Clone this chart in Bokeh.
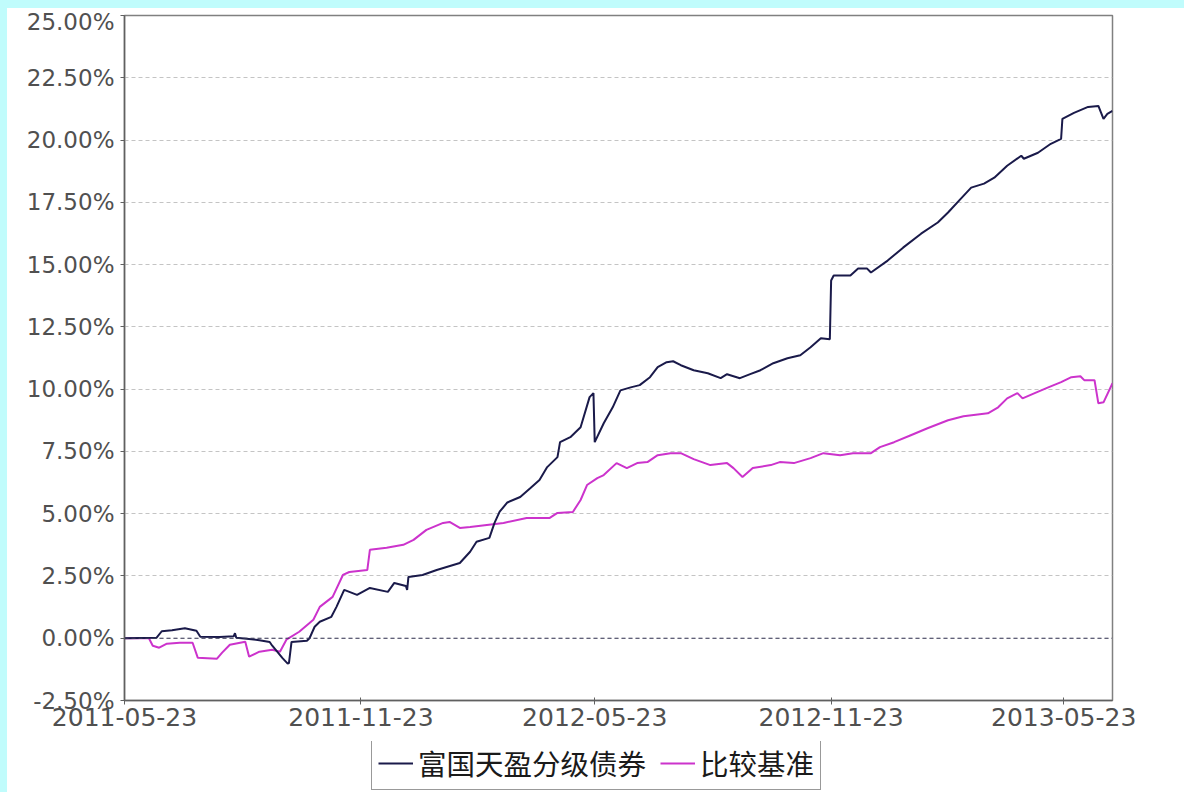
import pandas as pd
from bokeh.plotting import figure
from bokeh.layouts import column, row
from bokeh.models import (ColumnDataSource, Range1d, FixedTicker, DatetimeTickFormatter,
                          PrintfTickFormatter, Span, Legend, LegendItem, Spacer)
from bokeh.embed import file_html
from bokeh.resources import INLINE

# ---------------- data ----------------
fund_name = "富国天盈分级债券"
bench_name = "比较基准"

fund_dates = [
    "2011-05-23", "2011-06-17", "2011-06-21", "2011-06-29", "2011-07-09", "2011-07-18",
    "2011-07-21", "2011-08-05", "2011-08-16", "2011-08-17", "2011-08-18", "2011-08-26",
    "2011-09-05", "2011-09-13", "2011-09-15", "2011-09-23", "2011-09-27", "2011-09-28",
    "2011-09-30", "2011-10-12", "2011-10-14", "2011-10-18", "2011-10-22", "2011-10-31",
    "2011-11-04", "2011-11-10", "2011-11-20", "2011-11-30", "2011-12-14", "2011-12-19",
    "2011-12-28", "2011-12-29", "2011-12-30", "2012-01-10", "2012-01-21", "2012-02-08",
    "2012-02-16", "2012-02-21", "2012-03-02", "2012-03-06", "2012-03-10", "2012-03-16",
    "2012-03-26", "2012-04-03", "2012-04-10", "2012-04-16", "2012-04-24", "2012-04-26",
    "2012-05-04", "2012-05-12", "2012-05-19", "2012-05-22", "2012-05-23", "2012-05-30",
    "2012-06-06", "2012-06-12", "2012-06-20", "2012-06-27", "2012-07-05", "2012-07-11",
    "2012-07-18", "2012-07-23", "2012-07-29", "2012-08-08", "2012-08-19", "2012-08-29",
    "2012-09-03", "2012-09-13", "2012-09-21", "2012-09-29", "2012-10-09", "2012-10-20",
    "2012-10-30", "2012-11-07", "2012-11-15", "2012-11-22", "2012-11-23", "2012-11-25",
    "2012-12-08", "2012-12-14", "2012-12-21", "2012-12-24", "2013-01-06", "2013-01-18",
    "2013-02-01", "2013-02-14", "2013-02-22", "2013-03-04", "2013-03-12", "2013-03-22",
    "2013-03-30", "2013-04-09", "2013-04-20", "2013-04-22", "2013-05-03", "2013-05-13",
    "2013-05-21", "2013-05-22", "2013-05-31", "2013-06-11", "2013-06-19", "2013-06-23",
    "2013-06-26", "2013-06-30",
]
fund_values = [
    0.00, 0.02, 0.28, 0.32, 0.40, 0.30,
    0.06, 0.05, 0.08, 0.20, 0.02, -0.02,
    -0.08, -0.15, -0.30, -0.80, -1.02, -1.00,
    -0.15, -0.10, 0.00, 0.46, 0.66, 0.86,
    1.26, 1.94, 1.74, 2.02, 1.86, 2.22,
    2.10, 1.94, 2.46, 2.54, 2.74, 3.02,
    3.47, 3.87, 4.03, 4.63, 5.08, 5.45,
    5.67, 6.03, 6.35, 6.87, 7.27, 7.87,
    8.07, 8.47, 9.68, 9.84, 7.87, 8.63,
    9.27, 9.95, 10.07, 10.16, 10.48, 10.88,
    11.08, 11.12, 10.96, 10.76, 10.64, 10.44,
    10.60, 10.44, 10.60, 10.76, 11.04, 11.24,
    11.36, 11.68, 12.04, 12.00, 14.36, 14.56,
    14.56, 14.84, 14.84, 14.68, 15.16, 15.68,
    16.24, 16.69, 17.09, 17.65, 18.09, 18.25,
    18.49, 18.97, 19.37, 19.25, 19.49, 19.85,
    20.05, 20.85, 21.09, 21.33, 21.37, 20.85,
    21.05, 21.17,
]

bench_dates = [
    "2011-05-23", "2011-06-11", "2011-06-14", "2011-06-19", "2011-06-25", "2011-07-05",
    "2011-07-15", "2011-07-19", "2011-08-03", "2011-08-07", "2011-08-13", "2011-08-25",
    "2011-08-28", "2011-09-05", "2011-09-15", "2011-09-21", "2011-09-26", "2011-10-06",
    "2011-10-17", "2011-10-22", "2011-11-01", "2011-11-09", "2011-11-14", "2011-11-28",
    "2011-11-30", "2011-12-13", "2011-12-26", "2012-01-03", "2012-01-13", "2012-01-26",
    "2012-01-31", "2012-02-08", "2012-02-16", "2012-03-13", "2012-03-31", "2012-04-18",
    "2012-04-24", "2012-05-06", "2012-05-12", "2012-05-17", "2012-05-25", "2012-05-30",
    "2012-06-09", "2012-06-17", "2012-06-25", "2012-07-03", "2012-07-11", "2012-07-21",
    "2012-07-29", "2012-08-08", "2012-08-21", "2012-09-03", "2012-09-08", "2012-09-15",
    "2012-09-23", "2012-10-07", "2012-10-14", "2012-10-25", "2012-11-07", "2012-11-17",
    "2012-11-30", "2012-12-10", "2012-12-24", "2012-12-31", "2013-01-11", "2013-01-24",
    "2013-02-06", "2013-02-22", "2013-03-06", "2013-03-25", "2013-04-02", "2013-04-09",
    "2013-04-17", "2013-04-21", "2013-04-30", "2013-05-11", "2013-05-21", "2013-05-29",
    "2013-06-05", "2013-06-08", "2013-06-16", "2013-06-19", "2013-06-23", "2013-06-30",
]
bench_values = [
    0.00, 0.00, -0.30, -0.38, -0.22, -0.18,
    -0.18, -0.78, -0.82, -0.58, -0.26, -0.14,
    -0.74, -0.54, -0.46, -0.54, -0.06, 0.26,
    0.74, 1.26, 1.66, 2.54, 2.66, 2.74,
    3.55, 3.63, 3.75, 3.95, 4.35, 4.63,
    4.67, 4.43, 4.47, 4.63, 4.83, 4.83,
    5.03, 5.07, 5.55, 6.15, 6.43, 6.55,
    7.03, 6.83, 7.03, 7.07, 7.35, 7.43,
    7.43, 7.19, 6.95, 7.03, 6.83, 6.47,
    6.83, 6.95, 7.07, 7.03, 7.23, 7.43,
    7.35, 7.43, 7.43, 7.67, 7.87, 8.15,
    8.43, 8.75, 8.91, 9.03, 9.27, 9.63,
    9.84, 9.63, 9.83, 10.07, 10.28, 10.48,
    10.52, 10.36, 10.36, 9.43, 9.47, 10.24,
]

x_tick_labels = ["2011-05-23", "2011-11-23", "2012-05-23", "2012-11-23", "2013-05-23"]
y_ticks = [-2.5, 0.0, 2.5, 5.0, 7.5, 10.0, 12.5, 15.0, 17.5, 20.0, 22.5, 25.0]
x_start, x_end = "2011-05-23", "2013-06-30"

FUND_COLOR = "#1a1a4a"
BENCH_COLOR = "#cc33cc"
EDGE_COLOR = "#c0fcfc"

BL, BR = 117, 72   # frame borders shared by chart and legend strip

# ---------------- main chart ----------------
fund_src = ColumnDataSource(dict(x=pd.to_datetime(fund_dates), y=fund_values))
bench_src = ColumnDataSource(dict(x=pd.to_datetime(bench_dates), y=bench_values))

p = figure(width=1177, height=733, x_axis_type="datetime",
           output_backend="svg", toolbar_location=None,
           x_range=Range1d(pd.Timestamp(x_start), pd.Timestamp(x_end)),
           y_range=Range1d(y_ticks[0], y_ticks[-1]),
           min_border_left=BL, min_border_right=BR,
           min_border_top=7, min_border_bottom=41)
p.background_fill_color = "white"
p.border_fill_color = "white"
p.outline_line_color = "#808080"
p.outline_line_width = 1.5

tick_ms = [int((pd.Timestamp(t) - pd.Timestamp("1970-01-01")) / pd.Timedelta("1ms")) for t in x_tick_labels]
p.xaxis.ticker = FixedTicker(ticks=tick_ms)
p.xaxis.formatter = DatetimeTickFormatter(days="%Y-%m-%d", months="%Y-%m-%d", years="%Y-%m-%d")
p.yaxis.ticker = FixedTicker(ticks=y_ticks)
p.yaxis.formatter = PrintfTickFormatter(format="%.2f%%")

for ax in (p.xaxis[0], p.yaxis[0]):
    ax.axis_line_color = "#606060"
    ax.axis_line_width = 1.5
    ax.major_tick_line_color = "#606060"
    ax.minor_tick_line_color = None
    ax.major_label_text_color = "#505050"
    ax.major_label_text_font = "DejaVu Sans"
p.yaxis.major_label_text_font_size = "23px"
p.xaxis.major_label_text_font_size = "25px"
p.yaxis.major_tick_out = 4
p.yaxis.major_tick_in = 0
p.xaxis.major_tick_out = 4
p.xaxis.major_tick_in = 3
p.yaxis.major_label_standoff = 6
p.xaxis.major_label_standoff = 3

p.xgrid.grid_line_color = None
p.ygrid.grid_line_color = "#c4c4c4"
p.ygrid.grid_line_dash = "4 3"
p.ygrid.grid_line_width = 1

p.add_layout(Span(location=0, dimension="width", line_color="#3a3a5a",
                  line_dash="4 3", line_width=1))

p.line("x", "y", source=bench_src, line_color=BENCH_COLOR, line_width=2)
p.line("x", "y", source=fund_src, line_color=FUND_COLOR, line_width=2)

# ---------------- legend strip under the chart ----------------
lg = figure(width=1177, height=51, output_backend="svg", toolbar_location=None,
            x_axis_location=None, y_axis_location=None,
            x_range=Range1d(0, 1), y_range=Range1d(0, 1),
            min_border_left=BL, min_border_right=BR, min_border_top=0, min_border_bottom=0)
lg.outline_line_color = None
lg.grid.grid_line_color = None
lg.background_fill_color = "white"
lg.border_fill_color = "white"
# off-screen stand-ins so the legend can draw its line samples
lr_fund = lg.line(x=[-5, -4], y=[-5, -4], line_color=FUND_COLOR, line_width=2)
lr_bench = lg.line(x=[-5, -4], y=[-5, -4], line_color=BENCH_COLOR, line_width=2)

legend = Legend(items=[LegendItem(label=fund_name, renderers=[lr_fund]),
                       LegendItem(label=bench_name, renderers=[lr_bench])],
                orientation="horizontal", location=(247, 2))
legend.label_text_font = "Noto Sans CJK SC"
legend.label_text_font_size = "28.5px"
legend.label_text_color = "#1a1a1a"
legend.border_line_color = "#333333"
legend.border_line_width = 1.5
legend.background_fill_color = "white"
legend.background_fill_alpha = 1
legend.glyph_width = 35
legend.glyph_height = 30
legend.label_height = 30
legend.label_standoff = 5
legend.spacing = 14
legend.padding = 6
legend.margin = 0
lg.add_layout(legend, "center")

# ---------------- light cyan page edges (top and left) ----------------
top_edge = Spacer(width=1184, height=8, styles={"background-color": EDGE_COLOR})
left_edge = Spacer(width=7, height=784, styles={"background-color": EDGE_COLOR})

layout = column(top_edge,
                row(left_edge, column(p, lg, spacing=0), spacing=0),
                spacing=0)

open("out.html", "w").write(file_html(layout, INLINE))
